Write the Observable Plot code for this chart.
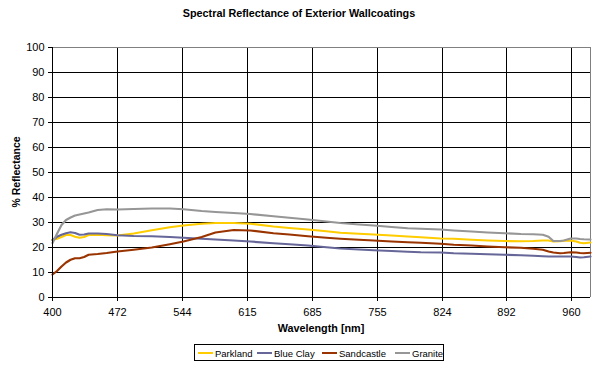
<!DOCTYPE html>
<html>
<head>
<meta charset="utf-8">
<script src="https://cdn.jsdelivr.net/npm/d3@7"></script>
<script src="https://cdn.jsdelivr.net/npm/@observablehq/plot@0.6"></script>
<style>
  body { margin: 0; background: #fff; }
  #chart { width: 603px; height: 371px; }
  #chart svg { display: block; }
</style>
</head>
<body>
<div id="chart"></div>
<script>
const chartTitle = "Spectral Reflectance of Exterior Wallcoatings";
const xLabel = "Wavelength [nm]";
const yLabel = "% Reflectance";

const wavelengths = [400, 405, 410, 415, 420, 425, 430, 435, 440, 450, 460, 472, 490, 510, 530, 545, 565, 580, 600, 618, 643, 660, 680, 700, 715, 735, 751, 770, 787, 801, 822, 836, 855, 872, 890, 907, 920, 930, 936, 941, 948, 952, 959, 965, 969, 973, 980];

const parkland = [23, 23.5, 24.2, 25, 25, 24.3, 23.9, 24.2, 25, 25.1, 24.9, 24.8, 25.6, 26.9, 28.1, 28.8, 29.5, 29.8, 29.8, 29.5, 28.4, 27.8, 27.2, 26.5, 25.9, 25.5, 25.2, 24.8, 24.4, 24.1, 23.6, 23.5, 23.1, 22.8, 22.6, 22.5, 22.6, 22.8, 22.8, 22.4, 22.5, 22.7, 22.8, 22.4, 21.9, 21.7, 22];
const blueClay = [23, 24.3, 25.1, 25.7, 26.1, 25.8, 25.1, 25.2, 25.6, 25.6, 25.4, 24.9, 24.6, 24.5, 24.2, 23.9, 23.5, 23.2, 22.8, 22.4, 21.7, 21.3, 20.8, 20.1, 19.6, 19.2, 18.9, 18.6, 18.3, 18.1, 18.0, 17.7, 17.5, 17.3, 17.1, 16.9, 16.7, 16.5, 16.4, 16.4, 16.4, 16.4, 16.4, 16.2, 16.0, 16.1, 16.4];
const sandcastle = [9.2, 10.6, 12.4, 14, 15.1, 15.7, 15.7, 16.2, 17.1, 17.4, 17.8, 18.4, 19.1, 20, 21.3, 22.4, 24.2, 26.0, 27.0, 26.8, 25.7, 25.2, 24.5, 23.9, 23.5, 23.1, 22.8, 22.4, 22.1, 21.9, 21.5, 21.1, 20.8, 20.4, 20.1, 19.9, 19.5, 19.1, 18.4, 18.0, 17.7, 17.8, 18.1, 18.0, 17.8, 17.7, 17.9];
const granite = [21.8, 25.5, 29, 31, 32, 32.8, 33.2, 33.6, 34, 35, 35.3, 35.2, 35.4, 35.6, 35.6, 35.3, 34.6, 34.2, 33.8, 33.4, 32.5, 31.9, 31.2, 30.4, 29.8, 29.2, 28.8, 28.2, 27.7, 27.5, 27.2, 26.8, 26.4, 26.0, 25.7, 25.4, 25.3, 25.1, 24.3, 22.6, 22.6, 22.8, 23.6, 23.6, 23.4, 23.3, 23.2];

const seriesNames = ["Parkland", "Blue Clay", "Sandcastle", "Granite"];
const seriesColors = ["#FFCC00", "#666699", "#993300", "#969696"];
const seriesValues = [parkland, blueClay, sandcastle, granite];

const xTicks = [400, 472, 544, 615, 685, 755, 824, 892, 960];
const xEnd = 980;
const yTicks = [0, 10, 20, 30, 40, 50, 60, 70, 80, 90, 100];

const rows = seriesNames.flatMap((name, i) =>
  wavelengths.map((w, j) => ({series: name, wavelength: w, value: seriesValues[i][j]}))
);

const font = '"Liberation Sans", Arial, sans-serif';

const plot = Plot.plot({
  width: 603,
  height: 371,
  marginLeft: 52,
  marginRight: 13,
  marginTop: 47,
  marginBottom: 74,
  style: {fontFamily: font, fontSize: "11px", color: "#000", background: "#fff", overflow: "visible"},
  x: {type: "linear", domain: [...xTicks, xEnd], range: [52, 117, 182, 247, 312, 377, 442, 506, 571, 590]},
  y: {domain: [0, 100]},
  color: {domain: seriesNames, range: seriesColors},
  marks: [
    Plot.ruleY(yTicks.filter(v => v > 0 && v < 100), {stroke: "#000", strokeWidth: 1}),
    Plot.ruleX(xTicks.filter(v => v > 400), {stroke: "#000", strokeWidth: 1}),
    Plot.ruleY([100], {stroke: "#808080", strokeWidth: 1}),
    Plot.ruleX([xEnd], {stroke: "#808080", strokeWidth: 1}),
    Plot.line(rows, {x: "wavelength", y: "value", z: "series", stroke: "series", strokeWidth: 2.2, strokeLinejoin: "round"}),
    Plot.ruleX([400], {stroke: "#000", strokeWidth: 1}),
    Plot.ruleY([0], {stroke: "#000", strokeWidth: 1}),
    Plot.axisY({ticks: yTicks, tickSize: 4, tickPadding: 4, label: null, fontSize: 11}),
    Plot.axisX({ticks: xTicks, tickSize: 4, tickPadding: 7, tickFormat: d => String(d), label: null, fontSize: 11})
  ]
});

document.getElementById("chart").appendChild(plot);

// Titles and legend
const svg = d3.select(plot);
svg.append("text")
  .attr("x", 299).attr("y", 17)
  .attr("text-anchor", "middle")
  .style("font-family", font).style("font-weight", "bold").style("font-size", "10.8px")
  .attr("fill", "#000")
  .text(chartTitle);

svg.append("text")
  .attr("x", 321).attr("y", 332)
  .attr("text-anchor", "middle")
  .style("font-family", font).style("font-weight", "bold").style("font-size", "10.8px")
  .attr("fill", "#000")
  .text(xLabel);

svg.append("text")
  .attr("transform", "translate(20,172) rotate(-90)")
  .attr("text-anchor", "middle")
  .style("font-family", font).style("font-weight", "bold").style("font-size", "10.5px")
  .attr("fill", "#000")
  .text(yLabel);

const legend = svg.append("g").attr("text-anchor", "start");
legend.append("rect")
  .attr("x", 194.5).attr("y", 344.5).attr("width", 249).attr("height", 16)
  .attr("fill", "#fff").attr("stroke", "#000").attr("stroke-width", 1);
const legendLineX = [198, 257, 322, 395];
seriesNames.forEach((name, i) => {
  legend.append("line")
    .attr("x1", legendLineX[i]).attr("x2", legendLineX[i] + 15)
    .attr("y1", 353).attr("y2", 353)
    .attr("stroke", seriesColors[i]).attr("stroke-width", 2);
  legend.append("text")
    .attr("x", legendLineX[i] + 17).attr("y", 357)
    .attr("text-anchor", "start")
    .style("text-anchor", "start")
    .style("font-family", font).style("font-size", "9.5px")
    .attr("fill", "#000")
    .text(name);
});
</script>
</body>
</html>
